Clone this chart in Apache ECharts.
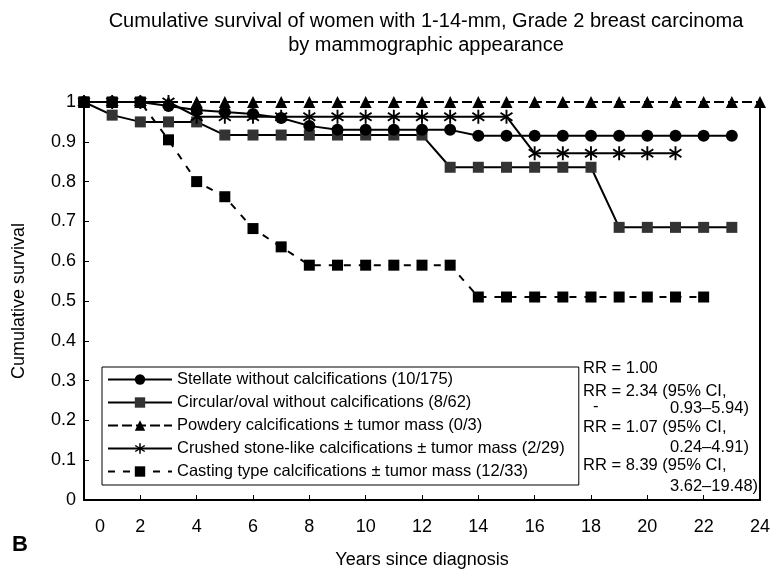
<!DOCTYPE html>
<html><head><meta charset="utf-8">
<script src="https://cdn.jsdelivr.net/npm/echarts@6/dist/echarts.min.js"></script>
<style>html,body{margin:0;padding:0;background:#fff}#c{width:773px;height:576px}</style>
</head><body><div id="c"></div>
<script>
var years = [0,1,2,3,4,5,6,7,8,9,10,11,12,13,14,15,16,17,18,19,20,21,22,23,24];
var seriesNames = [
  'Stellate without calcifications (10/175)',
  'Circular/oval without calcifications (8/62)',
  'Powdery calcifications \u00b1 tumor mass (0/3)',
  'Crushed stone-like calcifications \u00b1 tumor mass (2/29)',
  'Casting type calcifications \u00b1 tumor mass (12/33)'
];
var stellate = [1,1,1,0.99,0.98,0.975,0.97,0.96,0.94,0.93,0.93,0.93,0.93,0.93,0.915,0.915,0.915,0.915,0.915,0.915,0.915,0.915,0.915,0.915];
var circular = [1,0.967,0.95,0.95,0.95,0.917,0.917,0.917,0.917,0.917,0.917,0.917,0.917,0.836,0.836,0.836,0.836,0.836,0.836,0.685,0.685,0.685,0.685,0.685];
var powdery = [1,1,1,1,1,1,1,1,1,1,1,1,1,1,1,1,1,1,1,1,1,1,1,1,1];
var crushed = [1,1,1,1,0.963,0.963,0.963,0.963,0.963,0.963,0.963,0.963,0.963,0.963,0.963,0.963,0.871,0.871,0.871,0.871,0.871,0.871];
var casting = [1,1,1,0.905,0.80,0.762,0.682,0.636,0.59,0.59,0.59,0.59,0.59,0.59,0.51,0.51,0.51,0.51,0.51,0.51,0.51,0.51,0.51];
var yTicks = ['0','0.1','0.2','0.3','0.4','0.5','0.6','0.7','0.8','0.9','1'];
var rrLines = ['RR = 1.00','RR = 2.34 (95% CI,','-','0.93\u20135.94)','RR = 1.07 (95% CI,','0.24\u20134.91)','RR = 8.39 (95% CI,','3.62\u201319.48)'];

function pairs(vals){ return vals.map(function(v,i){ return [years[i], v]; }); }
var star = 'path://M-1.3,-10L1.3,-10L1.3,10L-1.3,10Z M7.44,6.81L-8.94,-4.68L-7.44,-6.81L8.94,4.68Z M-7.44,6.81L-8.94,4.68L7.44,-6.81L8.94,-4.68Z';
var FONT = 'Liberation Sans, Arial, sans-serif';

var chart = echarts.init(document.getElementById('c'), null, {renderer:'canvas'});
var rrX = [583,583,593,670,583,670,583,670];
var rrY = [370,393,408,410,429,449,467,488];
var graphics = rrLines.map(function(t,i){
  return {type:'text', left: rrX[i], top: rrY[i]-10, style:{text:t, font:'16.5px '+FONT, fill:'#000'}};
});
graphics.push({type:'text', left:12, top:534, style:{text:'B', font:'bold 22px '+FONT, fill:'#000'}});

chart.setOption({
  animation:false,
  title:{text:'Cumulative survival of women with 1-14-mm, Grade 2 breast carcinoma\nby mammographic appearance',
    left:421, top:4, textAlign:'center',
    textStyle:{fontFamily:FONT, fontSize:20, fontWeight:'normal', color:'#000', lineHeight:24}},
  grid:{left:84, right:11, top:102, bottom:76, containLabel:false},
  legend:{orient:'vertical', left:102, top:367, itemWidth:64, itemHeight:13, itemGap:6,
    borderColor:'#000', borderWidth:1, borderRadius:0, padding:[4,14,5,5],
    textStyle:{fontFamily:FONT, fontSize:16.5, color:'#000'},
    data:seriesNames},
  xAxis:{type:'value', min:0, max:24, interval:2,
    name:'Years since diagnosis', nameLocation:'middle', nameGap:51,
    nameTextStyle:{fontFamily:FONT, fontSize:18, color:'#000'},
    axisLine:{lineStyle:{color:'#000', width:2}},
    axisTick:{inside:true, length:5, lineStyle:{color:'#000'}},
    axisLabel:{fontFamily:FONT, fontSize:18, color:'#000', margin:18,
      formatter:function(v){ return v === 0 ? '{z|0}' : String(v); },
      rich:{z:{fontFamily:FONT, fontSize:18, color:'#000', padding:[0,0,0,32]}}},
    splitLine:{show:false}},
  yAxis:[{type:'value', min:0, max:1, interval:0.1,
    name:'Cumulative survival', nameLocation:'middle', nameGap:56, nameRotate:90,
    nameTextStyle:{fontFamily:FONT, fontSize:18, color:'#000'},
    axisLine:{show:true, lineStyle:{color:'#000', width:2}},
    axisTick:{show:true, inside:true, length:5, lineStyle:{color:'#000'}},
    axisLabel:{fontFamily:FONT, fontSize:18, color:'#000', margin:8,
      formatter:function(v){ return yTicks[Math.round(v*10)]; }},
    splitLine:{show:false}},
   {type:'value', min:0, max:1, position:'right',
    axisLine:{show:true, lineStyle:{color:'#000', width:2}},
    axisTick:{show:false}, axisLabel:{show:false}, splitLine:{show:false}}],
  graphic:graphics,
  series:[
    {name:seriesNames[0], type:'line', data:pairs(stellate), symbol:'circle', symbolSize:12,
      lineStyle:{color:'#000', width:2}, itemStyle:{color:'#000'}, z:3},
    {name:seriesNames[1], type:'line', data:pairs(circular), symbol:'rect', symbolSize:11,
      lineStyle:{color:'#000', width:2}, itemStyle:{color:'#333'}, z:2},
    {name:seriesNames[2], type:'line', data:pairs(powdery), symbol:'triangle', symbolSize:12,
      lineStyle:{color:'#000', width:2, type:[10,4]}, itemStyle:{color:'#000'}, z:4},
    {name:seriesNames[3], type:'line', data:pairs(crushed), symbol:star, symbolSize:[13,14],
      lineStyle:{color:'#000', width:2}, itemStyle:{color:'#000'}, z:3},
    {name:seriesNames[4], type:'line', data:pairs(casting), symbol:'rect', symbolSize:11,
      lineStyle:{color:'#000', width:2, type:[7,8]}, itemStyle:{color:'#000'}, z:5}
  ]
});
</script></body></html>
